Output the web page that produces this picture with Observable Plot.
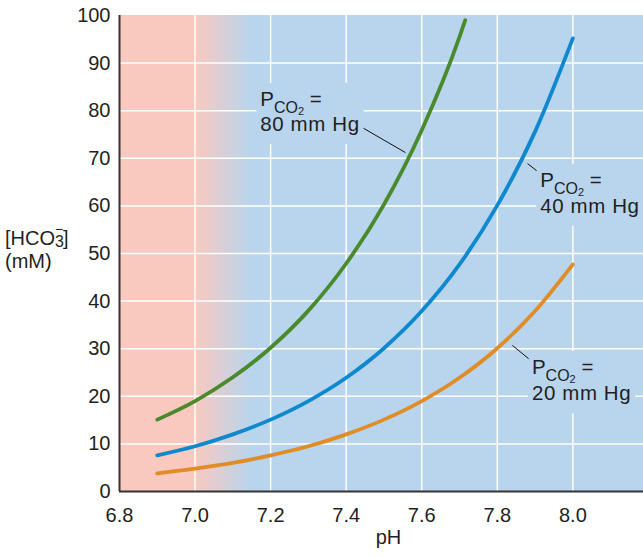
<!DOCTYPE html>
<html>
<head>
<meta charset="utf-8">
<script src="https://cdn.jsdelivr.net/npm/d3@7"></script>
<script src="https://cdn.jsdelivr.net/npm/@observablehq/plot@0.6"></script>
<style>
  body { margin: 0; background: #fff; }
  #chart svg { display: block; }
</style>
</head>
<body>
<div id="chart"></div>
<script>
// ---- Data ----
const pH_80   = [6.9, 7.0, 7.1, 7.2, 7.3, 7.4, 7.5, 7.6, 7.7, 7.715];
const hco3_80 = [15.1, 19.0, 24.0, 30.2, 38.0, 47.9, 60.3, 75.9, 95.5, 99.0];

const pH_40   = [6.9, 7.0, 7.1, 7.2, 7.3, 7.4, 7.5, 7.6, 7.7, 7.8, 7.9, 8.0];
const hco3_40 = [7.6, 9.5, 12.0, 15.1, 19.0, 23.9, 30.1, 37.9, 47.7, 60.1, 75.6, 95.2];

const pH_20   = [6.9, 7.0, 7.1, 7.2, 7.3, 7.4, 7.5, 7.6, 7.7, 7.8, 7.9, 8.0];
const hco3_20 = [3.8, 4.8, 6.0, 7.6, 9.5, 12.0, 15.1, 19.0, 23.9, 30.1, 37.9, 47.7];

const seriesNames = ["80", "40", "20"];
const seriesColors = ["#4a8a2c", "#0e88cf", "#e08d27"];

const xTicks = [6.8, 7.0, 7.2, 7.4, 7.6, 7.8, 8.0];
const yTicks = [0, 10, 20, 30, 40, 50, 60, 70, 80, 90, 100];
const xGrid = [7.0, 7.2, 7.4, 7.6, 7.8, 8.0];
const yGrid = [10, 20, 30, 40, 50, 60, 70, 80, 90];

// acid (pink) zone fades into the blue zone
const acidEnd = 7.0;
const blueStart = 7.15;

// curve labels (pH, HCO3 at first-line baseline, second-line baseline)
const labelPCO2 = ["80", "40", "20"];
const labelX  = [7.174, 7.915, 7.893];
const labelY1 = [80.9, 63.9, 24.6];
const labelY2 = [75.6, 58.4, 19.1];

// leader lines
const leadX1 = [7.446, 7.880, 7.840];
const leadY1 = [76.3, 68.9, 30.7];
const leadX2 = [7.557, 7.904, 7.883];
const leadY2 = [71.2, 67.4, 27.9];

// ---- Build tables ----
const curves = [
  ...pH_80.map((x, i) => ({pH: x, v: hco3_80[i], s: "80"})),
  ...pH_40.map((x, i) => ({pH: x, v: hco3_40[i], s: "40"})),
  ...pH_20.map((x, i) => ({pH: x, v: hco3_20[i], s: "20"}))
];
const leads = leadX1.map((x, i) => ({x1: x, y1: leadY1[i], x2: leadX2[i], y2: leadY2[i]}));

const PINK = "#f9c9c0";
const BLUE = "#b8d5ed";
const INK = "#231f20";

function background(index, scales, values, dims) {
  const x = scales.x;
  const g = d3.create("svg:g");
  const grad = g.append("defs").append("linearGradient")
    .attr("id", "phgrad")
    .attr("gradientUnits", "userSpaceOnUse")
    .attr("x1", x(acidEnd)).attr("x2", x(blueStart))
    .attr("y1", 0).attr("y2", 0);
  grad.append("stop").attr("offset", 0).attr("stop-color", PINK);
  grad.append("stop").attr("offset", 1).attr("stop-color", BLUE);
  g.append("rect")
    .attr("x", dims.marginLeft)
    .attr("y", dims.marginTop)
    .attr("width", dims.width - dims.marginLeft - dims.marginRight)
    .attr("height", dims.height - dims.marginTop - dims.marginBottom)
    .attr("fill", "url(#phgrad)");
  return g.node();
}

function curveLabels(index, scales) {
  const x = scales.x, y = scales.y;
  const g = d3.create("svg:g").attr("class", "curve-labels")
    .attr("font-size", 20.5).attr("fill", INK).attr("text-anchor", "start");
  labelPCO2.forEach((p, i) => {
    const lg = g.append("g").attr("class", "lab");
    const px = x(labelX[i]);
    const t1 = lg.append("text").attr("x", px).attr("y", y(labelY1[i]));
    t1.append("tspan").text("P");
    t1.append("tspan").attr("font-size", 16).attr("dy", 7).text("CO");
    t1.append("tspan").attr("font-size", 11).attr("dy", 2).text("2");
    t1.append("tspan").attr("font-size", 20.5).attr("dy", -9).text("\u00A0=");
    lg.append("text").attr("x", px).attr("y", y(labelY2[i])).attr("letter-spacing", 0.6).text(`${p} mm Hg`);
  });
  return g.node();
}

function yTitle(index, scales, values, dims) {
  const g = d3.create("svg:g").attr("font-size", 20).attr("fill", INK).attr("text-anchor", "start");
  const t = g.append("text").attr("x", 5).attr("y", 245);
  t.append("tspan").text("[HCO");
  t.append("tspan").attr("font-size", 16).attr("dy", 2).text("3");
  t.append("tspan").attr("font-size", 14).attr("dx", -9).attr("dy", -13).text("\u2212");
  t.append("tspan").attr("font-size", 20).attr("dy", 11).text("]");
  g.append("text").attr("x", 5).attr("y", 268).text("(mM)");
  return g.node();
}

const plot = Plot.plot({
  width: 643,
  height: 556,
  marginLeft: 119,
  marginRight: 0,
  marginTop: 15,
  marginBottom: 65,
  style: {fontFamily: "'Liberation Sans', Arial, Helvetica, sans-serif", fontSize: "20px", color: INK, background: "white"},
  x: {domain: [6.8, 8.187], ticks: xTicks, tickFormat: d => d.toFixed(1), tickSize: 0, tickPadding: 16, label: null},
  y: {domain: [0, 100], ticks: yTicks, tickSize: 0, tickPadding: 9, label: null},
  color: {domain: seriesNames, range: seriesColors},
  marks: [
    background,
    Plot.ruleX(xGrid, {stroke: "white", strokeWidth: 1.5}),
    Plot.ruleY(yGrid, {stroke: "white", strokeWidth: 1.5}),
    Plot.line(curves, {x: "pH", y: "v", z: "s", stroke: "s", strokeWidth: 3.8, curve: "monotone-x"}),
    curveLabels,
    Plot.link(leads, {x1: "x1", y1: "y1", x2: "x2", y2: "y2", stroke: "#111", strokeWidth: 1}),
    Plot.ruleX([6.8], {stroke: "#333", strokeWidth: 2}),
    Plot.ruleY([0], {stroke: "#333", strokeWidth: 2}),
    Plot.text(["pH"], {frameAnchor: "bottom", dx: 7, dy: 52, fontSize: 20, fill: INK}),
    yTitle
  ]
});

document.getElementById("chart").appendChild(plot);

// background boxes behind curve labels (like the reference's knock-outs)
d3.select(plot).selectAll("g.lab").each(function() {
  const b = this.getBBox();
  d3.select(this).insert("rect", ":first-child")
    .attr("x", b.x - 4).attr("y", b.y - 4)
    .attr("width", b.width + 8).attr("height", b.height + 13)
    .attr("fill", BLUE);
});
</script>
</body>
</html>
